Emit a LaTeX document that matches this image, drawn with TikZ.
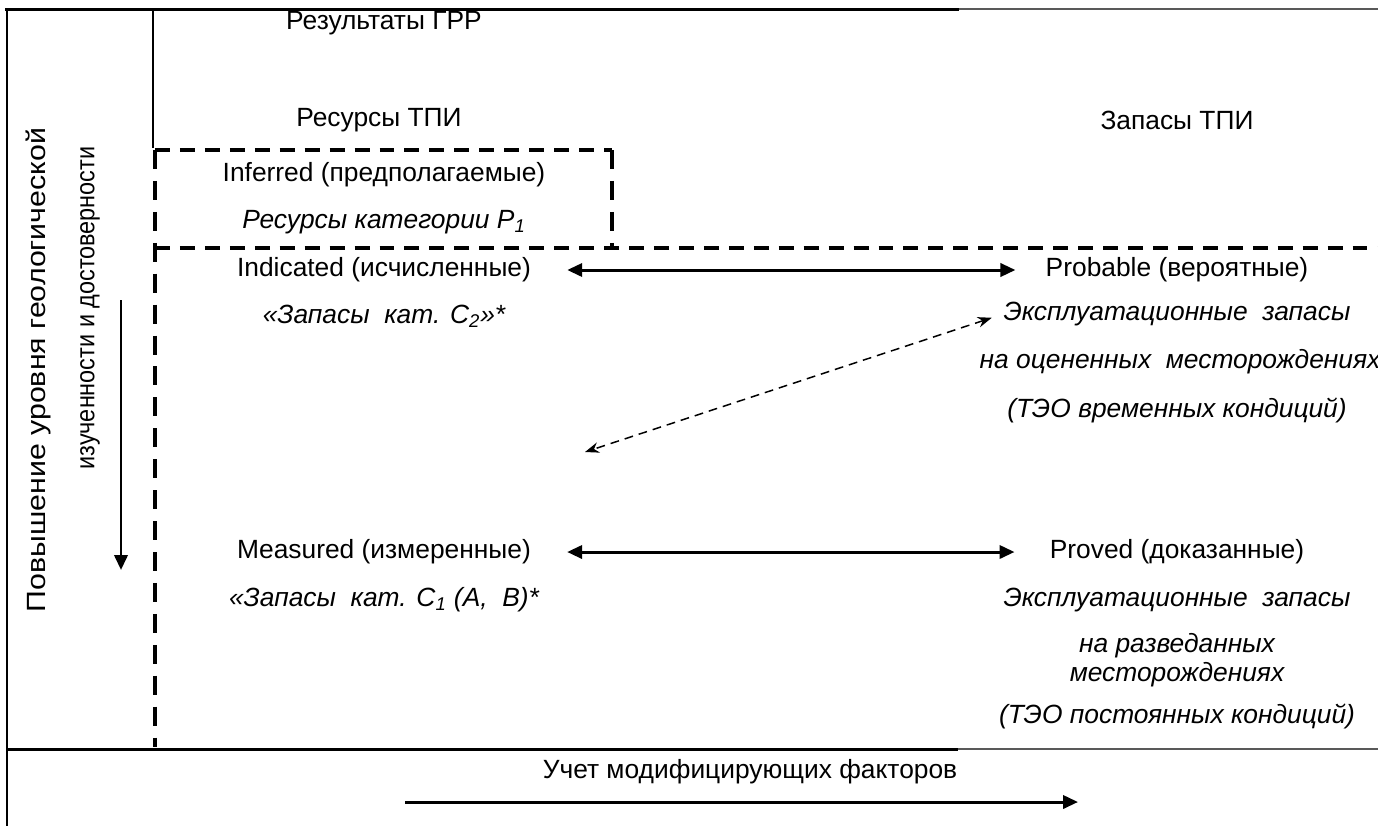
\documentclass[tikz,border=0pt]{standalone}
\usepackage{fontspec}
\setmainfont{Liberation Sans}
\newfontfamily\widefont[FakeStretch=1.15]{Liberation Sans}
\newfontfamily\narrowfont[FakeStretch=0.89]{Liberation Sans}
\usetikzlibrary{arrows.meta,positioning}

\begin{document}
\begin{tikzpicture}[
  x=0.02cm, y=-0.02cm,
  >={Triangle[length=8.5pt,width=7.5pt]},
  every node/.style={font=\fontsize{15}{18}\selectfont, inner sep=0pt},
  note/.style={font=\fontsize{15}{18}\selectfont\itshape},
  frame/.style={line width=1.7pt},
  framegray/.style={line width=1.4pt, black!65},
  hdash/.style={line width=2.3pt, dash pattern=on 8.5pt off 5.7pt},
  vdash/.style={line width=2.3pt, dash pattern=on 10.8pt off 6.8pt},
  link/.style={<->, line width=1.7pt},
  maybe/.style={{Stealth[length=8pt,width=6pt]}-{Stealth[length=8pt,width=6pt]},
                line width=0.85pt, dash pattern=on 5pt off 3.4pt},
]
\useasboundingbox (0,0) rectangle (1378,826);

\draw[frame] (5,9) -- (959,9);
\draw[framegray] (959,9) -- (1378,9);
\draw[frame] (7,9) -- (7,826);
\draw[frame] (7,749) -- (958,749);
\draw[framegray] (958,749) -- (1378,749);
\draw[line width=0.9pt] (153,9) -- (153,148);

\draw[hdash] (155,150) -- (612,150);
\draw[vdash] (612,150) -- (612,248);
\draw[hdash] (155,248) -- (1378,248);
\draw[vdash] (155,150) -- (155,747);

\node (grr) at (384,23) {Результаты ГРР};
\node (res) at (379,120) {Ресурсы ТПИ};
\node (zap) at (1177,120) {Запасы ТПИ};

\node (inf) at (384,175) {Inferred (предполагаемые)};
\node[note] (infP) at (384,222) {Ресурсы категории P\textsubscript{1}};

\node (ind) at (384,270) {Indicated (исчисленные)};
\node[note] (indC) at (384,316) {«Запасы\ \ кат. C\textsubscript{2}»*};
\node (prob) at (1177,270) {Probable (вероятные)};
\node[note] (probExpl) at (1177,314) {Эксплуатационные\ \ запасы};
\node[note] (probOcen) at (1180,362) {на оцененных\ \ месторождениях};
\node[note] (probTeo) at (1177,410) {(ТЭО временных кондиций)};

\node (mea) at (384,552) {Measured (измеренные)};
\node[note] (meaC) at (384,600) {«Запасы\ \ кат. C\textsubscript{1} (A,\ \ B)*};
\node (prov) at (1177,552) {Proved (доказанные)};
\node[note] (provExpl) at (1177,600) {Эксплуатационные\ \ запасы};
\node[note] (provRazv) at (1177,646) {на разведанных};
\node[note] (provMest) at (1177,675) {месторождениях};
\node[note] (provTeo) at (1177,716) {(ТЭО постоянных кондиций)};

\node[rotate=90, font=\fontsize{15}{18}\widefont] (lvl1) at (38,370) {Повышение уровня геологической};
\node[rotate=90, font=\fontsize{15}{18}\narrowfont] (lvl2) at (90,308) {изученности и достоверности};
\coordinate (lvlTop) at (121,300);
\coordinate (lvlEnd) at (121,570);

\node (mod) at (750,772) {Учет модифицирующих факторов};
\coordinate (modA) at (405,802);
\coordinate (modB) at (1078,802);

\coordinate (gap) at (585,452);

\draw[link, shorten <=0.72cm, shorten >=0.6cm] (ind.east) -- (prob.west);
\draw[link, shorten <=0.72cm, shorten >=0.7cm] (mea.east) -- (prov.west);
\draw[maybe, shorten <=0.24cm] (probExpl.west) -- (gap);
\draw[->, line width=1.7pt] (lvlTop) -- (lvlEnd);
\draw[->, line width=1.7pt] (modA) -- (modB);
\end{tikzpicture}
\end{document}
